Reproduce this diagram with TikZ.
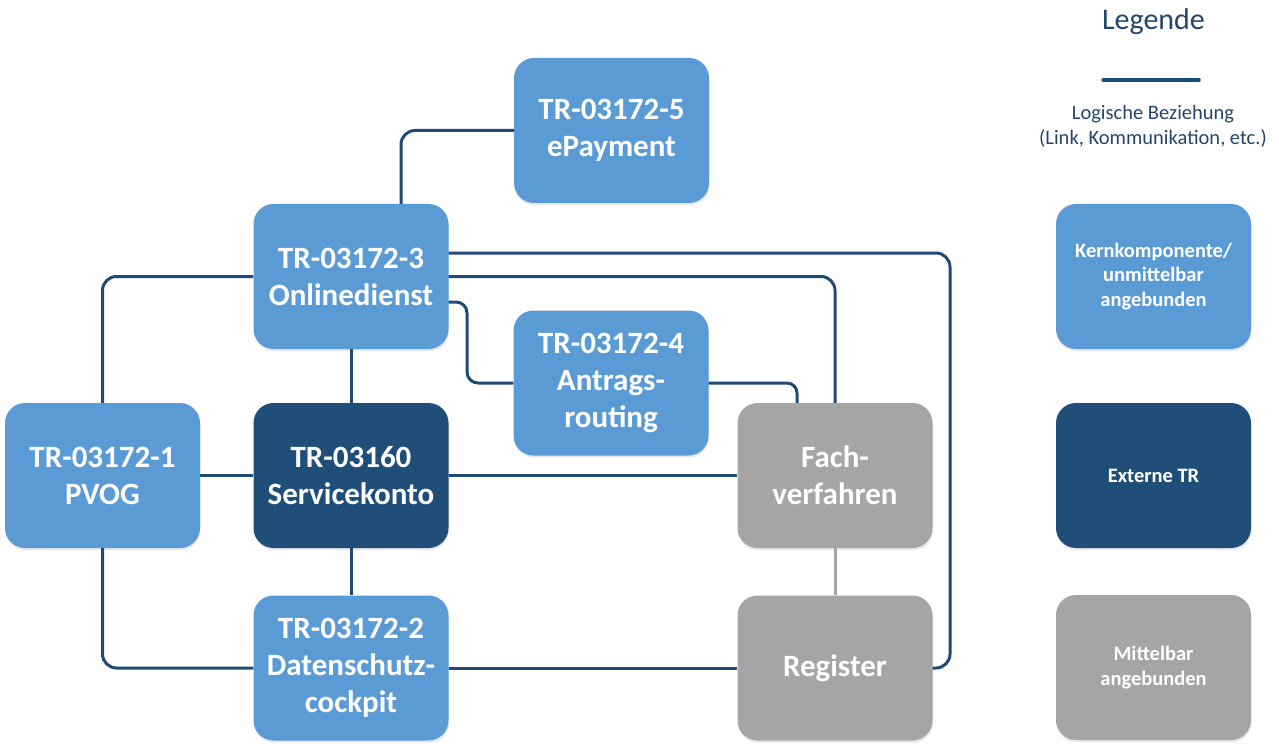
\documentclass[tikz,border=0pt]{standalone}
\usepackage{fontspec}
\setmainfont{Carlito}
\usetikzlibrary{shadows}
\definecolor{lblue}{HTML}{5B9BD5}
\definecolor{dblue}{HTML}{1F4E79}
\definecolor{bgray}{HTML}{A5A5A5}
\definecolor{lnblue}{HTML}{1F4A73}
\definecolor{txblue}{HTML}{24456B}
\tikzset{
  box/.style={rectangle, rounded corners=20pt, minimum width=195pt, minimum height=145pt,
    inner sep=0pt, text=white, align=center, font=\fontsize{31}{37}\selectfont\bfseries,
    drop shadow={opacity=0.18, shadow xshift=0.6pt, shadow yshift=-2.2pt}},
  kern/.style={box, fill=lblue},
  ext/.style={box, fill=dblue},
  mit/.style={box, fill=bgray},
  legbox/.style={font=\fontsize{20.5}{24.5}\selectfont\bfseries},
  conn/.style={draw=lnblue, line width=3pt, rounded corners=14pt},
  gconn/.style={draw=bgray, line width=3pt},
}
\begin{document}
\begin{tikzpicture}[x=1pt, y=-1pt]
\useasboundingbox (0,0) rectangle (1279,754);
% nodes
\node[kern] (ep) at (611.5,130.5) {TR-03172-5\\ePayment};
\node[kern] (od) at (351,276.5) {TR-03172-3\\Onlinedienst};
\node[kern] (ar) at (611,383) {TR-03172-4\\Antrags-\\routing};
\node[kern] (pvog) at (102.5,475.5) {TR-03172-1\\PVOG};
\node[ext] (sk) at (351,475.5) {TR-03160\\Servicekonto};
\node[mit] (fach) at (835,475.5) {Fach-\\verfahren};
\node[kern] (ds) at (351,668) {TR-03172-2\\Datenschutz-\\cockpit};
\node[mit] (reg) at (835,668) {Register};
% helper coordinates
\coordinate (rx) at (950,0);
\coordinate (ax) at (467,0);
% connectors
\draw[conn] ([xshift=50pt]od.north) |- (ep.west);
\draw[conn] (od.west) -| (pvog.north);
\draw[conn] ([yshift=23.5pt]od.east) -| (rx |- reg.east) -- (reg.east);
\draw[conn] (od.east) -| (fach.north);
\draw[conn, rounded corners=11pt] ([yshift=-25.5pt]od.east) -| (ax |- ar.west) -- (ar.west);
\draw[conn, rounded corners=10pt] (ar.east) -| ([xshift=-38pt]fach.north);
\draw[conn] (od.south) -- (sk.north);
\draw[conn] (pvog.east) -- (sk.west);
\draw[conn] (sk.east) -- (fach.west);
\draw[conn] (sk.south) -- (ds.north);
\draw[conn] (pvog.south) |- (ds.west);
\draw[conn] (ds.east) -- (reg.west);
\draw[gconn] (fach.south) -- (reg.north);
% legend
\node[text=txblue, font=\fontsize{30}{36}\selectfont] (legt) at (1153.5,22) {Legende};
\coordinate (l1) at (1103,80);
\coordinate (l2) at (1199,80);
\draw[draw=lnblue, line width=3.5pt, line cap=round] (l1) -- (l2);
\node[text=txblue, align=center, font=\fontsize{20.5}{25}\selectfont] (legl) at (1153,126) {Logische Beziehung\\(Link, Kommunikation, etc.)};
\node[kern, legbox] (lk) at (1153.5,276.5) {Kernkomponente/\\unmittelbar\\angebunden};
\node[ext, legbox] (le) at (1153.5,475.5) {Externe TR};
\node[mit, legbox] (lm) at (1153.5,667.5) {Mittelbar\\angebunden};
\end{tikzpicture}
\end{document}
